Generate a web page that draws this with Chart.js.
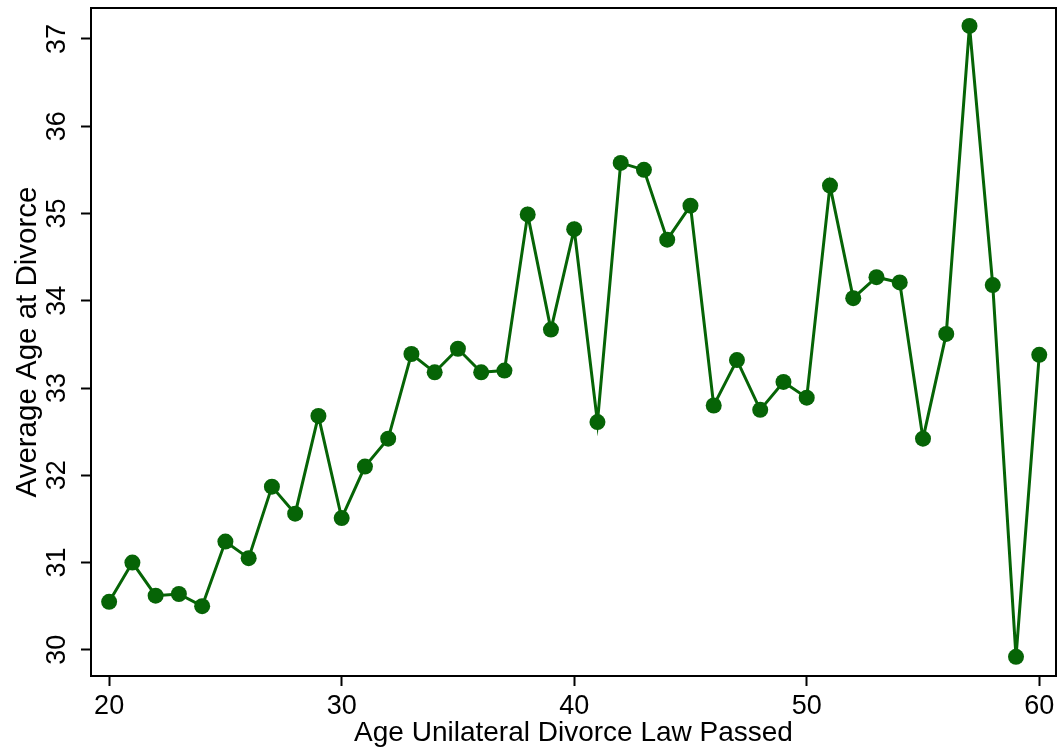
<!DOCTYPE html>
<html>
<head>
<meta charset="utf-8">
<script src="https://cdn.jsdelivr.net/npm/chart.js@4"></script>
<style>
html,body{margin:0;padding:0;background:#fff;overflow:hidden;}
#wrap{width:1064px;height:750px;}
canvas{display:block;}
</style>
</head>
<body>
<div id="wrap"><canvas id="c" width="1064" height="750"></canvas></div>
<script>
const ages = [20,21,22,23,24,25,26,27,28,29,30,31,32,33,34,35,36,37,38,39,40,41,42,43,44,45,46,47,48,49,50,51,52,53,54,55,56,57,58,59,60];
const avgAgeAtDivorce = [30.55,31.00,30.62,30.64,30.50,31.24,31.05,31.87,31.56,32.68,31.51,32.10,32.42,33.39,33.18,33.45,33.18,33.20,34.99,33.67,34.82,32.61,35.58,35.50,34.70,35.09,32.80,33.32,32.75,33.07,32.89,35.32,34.03,34.27,34.21,32.42,33.62,37.15,34.18,29.92,33.38];
const xTickValues = [20,30,40,50,60];
const yTickValues = [30,31,32,33,34,35,36,37];
const xTitle = 'Age Unilateral Divorce Law Passed';
const yTitle = 'Average Age at Divorce';

const green = '#066406';
const FONT = "'Liberation Sans', Arial, sans-serif";

const framePlugin = {
  id: 'frame',
  beforeLayout(chart) {
    Object.values(chart.scales).forEach(s => {
      s.getPadding = () => ({left: 0, top: 0, right: 0, bottom: 0});
    });
  },
  afterDraw(chart) {
    const {ctx, chartArea: a} = chart;
    ctx.save();
    ctx.strokeStyle = '#000';
    ctx.lineWidth = 2;
    ctx.strokeRect(a.left, a.top, a.right - a.left, a.bottom - a.top);
    ctx.restore();
  }
};

function noPad(s) { s.paddingTop = 0; s.paddingBottom = 0; s.paddingLeft = 0; s.paddingRight = 0; }

new Chart(document.getElementById('c'), {
  type: 'line',
  data: {
    datasets: [{
      data: ages.map((a, i) => ({x: a, y: avgAgeAtDivorce[i]})),
      borderColor: green,
      backgroundColor: green,
      pointBackgroundColor: green,
      pointBorderColor: green,
      borderWidth: 3,
      pointRadius: 8,
      pointBorderWidth: 0,
      tension: 0
    }]
  },
  options: {
    responsive: false,
    animation: false,
    devicePixelRatio: 1,
    layout: {padding: {left: 0, top: 8, right: 4, bottom: 0}},
    plugins: {legend: {display: false}, tooltip: {enabled: false}},
    scales: {
      x: {
        type: 'linear',
        min: 19.22,
        max: 60.72,
        afterBuildTicks: s => { s.ticks = xTickValues.map(v => ({value: v})); },
        afterFit: s => { s.height = 74; noPad(s); },
        border: {display: false},
        grid: {display: true, drawOnChartArea: false, drawTicks: true, tickLength: 10, tickWidth: 2, tickColor: '#000'},
        ticks: {color: '#000', font: {family: FONT, size: 27}, padding: 4, maxRotation: 0, minRotation: 0},
        title: {display: true, text: xTitle, color: '#000', font: {family: FONT, size: 28, lineHeight: 1}, padding: {top: 0, bottom: 3}}
      },
      y: {
        type: 'linear',
        min: 29.70,
        max: 37.355,
        afterBuildTicks: s => { s.ticks = yTickValues.map(v => ({value: v})); },
        afterFit: s => { s.width = 91; noPad(s); },
        border: {display: false},
        grid: {display: true, drawOnChartArea: false, drawTicks: true, tickLength: 10, tickWidth: 2, tickColor: '#000'},
        ticks: {color: '#000', font: {family: FONT, size: 27}, padding: 8, minRotation: 90, maxRotation: 90, crossAlign: 'center'},
        title: {display: true, text: yTitle, color: '#000', font: {family: FONT, size: 29.5, lineHeight: 1}, padding: {top: 13, bottom: 0}}
      }
    }
  },
  plugins: [framePlugin]
});
</script>
</body>
</html>
